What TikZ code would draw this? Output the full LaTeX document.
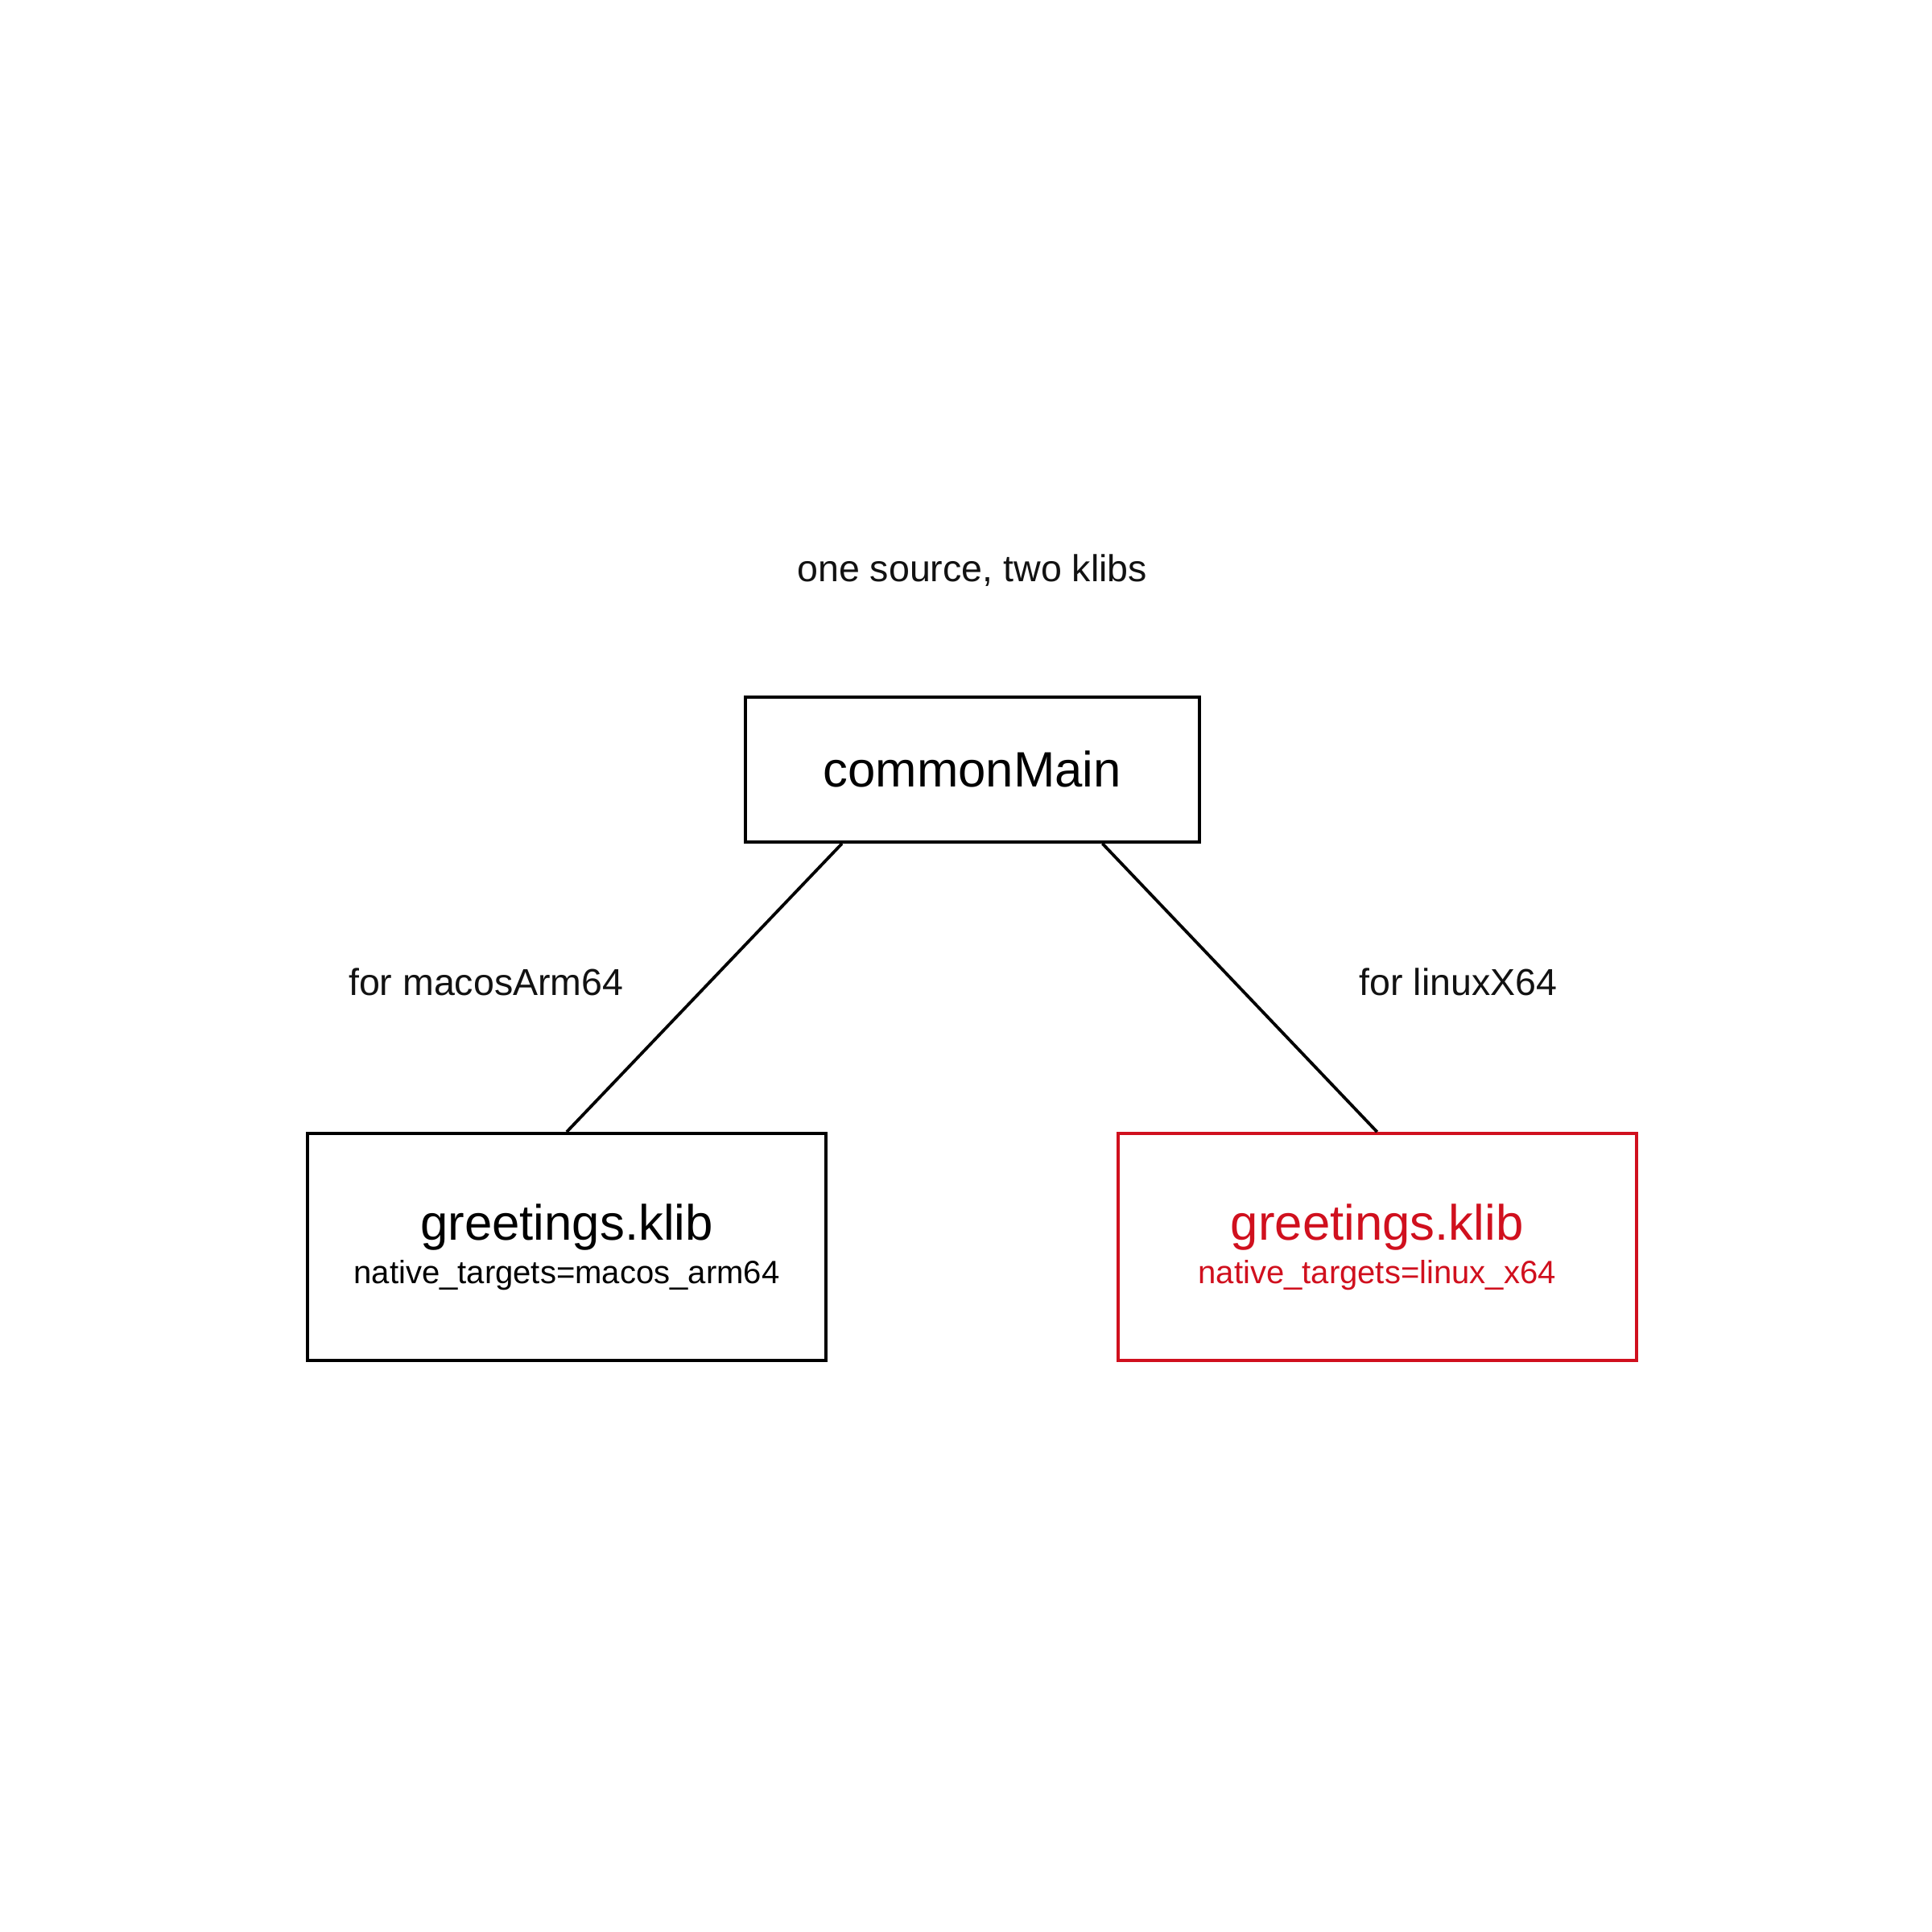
\documentclass[tikz,border=0pt]{standalone}
\usepackage{fontspec}
\setmainfont{Liberation Sans}
\usetikzlibrary{positioning}
\definecolor{klibred}{RGB}{208,16,30}

\begin{document}
\begin{tikzpicture}[box/.style={rectangle, draw, line width=0.7pt, align=center},
    lbl/.style={font=\fontsize{8.6}{10}\selectfont, text=black!93}]
    \useasboundingbox (0,0) rectangle (15.58,-15.58);
    \node at (7.84, -6.205) [box, minimum width=3.66cm, minimum height=1.17cm] (main) {\fontsize{11.4}{13}\selectfont commonMain};
    \node at (4.57, -10.055) [box, minimum width=4.18cm, minimum height=1.83cm] (macos)
        {{\fontsize{11.4}{18.5}\selectfont greetings.klib}\\[-2pt]{\fontsize{7.4}{18.5}\selectfont native\_targets=macos\_arm64}};
    \node at (11.105, -10.055) [box, draw=klibred, text=klibred, minimum width=4.18cm, minimum height=1.83cm] (linux)
        {{\fontsize{11.4}{18.5}\selectfont greetings.klib}\\[-2pt]{\fontsize{7.4}{18.5}\selectfont native\_targets=linux\_x64}};

    %labels
    \node at (7.84, -4.6) [lbl] (title) {one source, two klibs};
    \node at (3.92, -7.92) [lbl] (lmac) {for macosArm64};
    \node at (11.76, -7.92) [lbl] (llin) {for linuxX64};

    %relations
    \draw [line width=0.7pt] ([xshift=-1.05cm]main.south) -- (macos.north);
    \draw [line width=0.7pt] ([xshift=1.05cm]main.south) -- (linux.north);
\end{tikzpicture}
\end{document}
